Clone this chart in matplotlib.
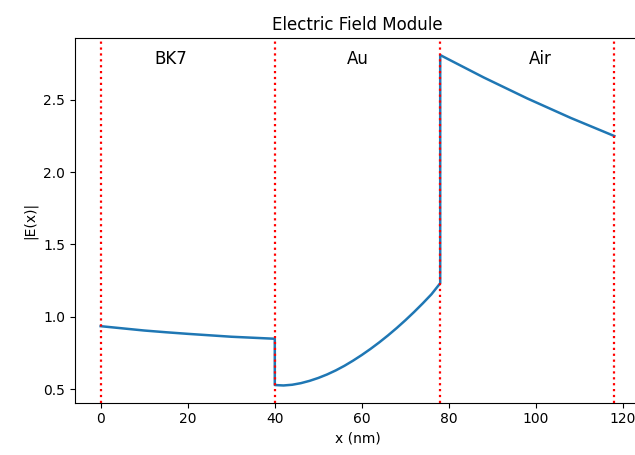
# Import libraries
import matplotlib
matplotlib.use('Agg')
import matplotlib.pyplot as plt
import numpy as np

# Field readings per layer (x in nm, |E|)
x_bk7 = [0, 5, 10, 15, 20, 25, 30, 35, 40]
e_bk7 = [0.935, 0.92, 0.905, 0.893, 0.882, 0.872, 0.862, 0.855, 0.848]

x_au = [40, 42, 44, 46, 48, 50, 52, 54, 56, 58, 60, 62, 64, 66, 68, 70, 72, 74, 76, 78]
e_au = [0.528, 0.525, 0.530, 0.541, 0.557, 0.577, 0.601, 0.629, 0.661, 0.697,
        0.736, 0.778, 0.823, 0.871, 0.922, 0.976, 1.033, 1.093, 1.156, 1.232]

x_air = [78, 88, 98, 108, 118]
e_air = [2.81, 2.655, 2.51, 2.375, 2.25]

# Interfaces and layer labels
interfaces = [0, 40, 78, 118]
layer_names = ['BK7', 'Au', 'Air']
layer_label_x = [16, 59, 101]
layer_label_y = 2.78

# Join the layers into one curve
x = np.concatenate([x_bk7, x_au, x_air])
e = np.concatenate([e_bk7, e_au, e_air])

# Plot
fig = plt.figure(figsize=(6.35, 4.55), dpi=100)
ax = fig.add_axes([75 / 635, 0.115, 565 / 635, 0.8015])
ax.plot(x, e, color='#1f77b4', lw=1.8)
for xi in interfaces:
    ax.axvline(xi, color='red', ls=':', lw=1.6)
for name, lx in zip(layer_names, layer_label_x):
    ax.text(lx, layer_label_y, name, fontsize=12, ha='center', va='center')

ax.set_xlim(-5.9, 123.9)
ax.set_ylim(0.406, 2.928)
ax.set_xticks([0, 20, 40, 60, 80, 100, 120])
ax.set_yticks([0.5, 1.0, 1.5, 2.0, 2.5])
ax.set_title('Electric Field Module', fontsize=12)
ax.set_xlabel('x (nm)')
ax.set_ylabel('|E(x)|')
fig.savefig('out.png', dpi=100)
